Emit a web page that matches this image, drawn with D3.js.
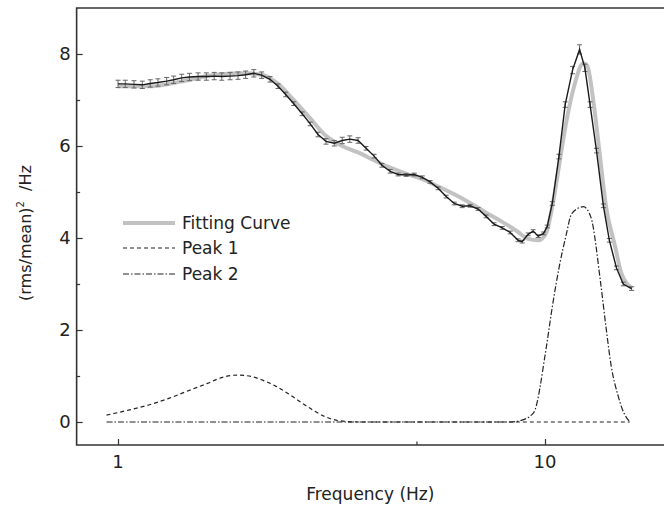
<!DOCTYPE html>
<html>
<head>
<meta charset="utf-8">
<script src="https://cdn.jsdelivr.net/npm/d3@7"></script>
<style>
  body { margin: 0; background: #fff; }
  text { font-family: "DejaVu Sans", sans-serif; fill: #222; }
</style>
</head>
<body>
<div id="chart"></div>
<script>
// measured spectrum (black line with error bars)
const freq = [1.00, 1.04, 1.09, 1.14, 1.19, 1.24, 1.30, 1.35, 1.41, 1.47, 1.54, 1.61, 1.68, 1.75, 1.83, 1.91,
  1.99, 2.08, 2.17, 2.27, 2.37, 2.47, 2.58, 2.70, 2.82, 2.94, 3.07, 3.21, 3.35, 3.49, 3.65, 3.81, 3.98,
  4.15, 4.34, 4.53, 4.73, 4.94, 5.16, 5.38, 5.62, 5.87, 6.13, 6.40, 6.68, 6.97, 7.28, 7.60, 7.94, 8.29,
  8.65, 8.84, 9.13, 9.38, 9.64, 9.92, 10.12, 10.40, 10.78, 11.15, 11.60, 12.05, 12.40, 12.75, 13.20,
  13.70, 14.15, 14.70, 15.25, 15.95]
const power = [7.35, 7.35, 7.34, 7.33, 7.36, 7.38, 7.41, 7.44, 7.48, 7.50, 7.51, 7.51, 7.52, 7.51, 7.52, 7.53,
  7.55, 7.58, 7.54, 7.45, 7.30, 7.12, 6.92, 6.70, 6.48, 6.25, 6.10, 6.06, 6.12, 6.15, 6.12, 5.95, 5.78,
  5.58, 5.45, 5.38, 5.37, 5.38, 5.32, 5.22, 5.08, 4.90, 4.75, 4.69, 4.70, 4.63, 4.47, 4.30, 4.22, 4.12,
  3.95, 3.92, 4.08, 4.15, 4.04, 4.10, 4.25, 4.75, 5.77, 6.90, 7.65, 8.10, 7.70, 6.90, 5.90,
  4.70, 3.95, 3.35, 3.00, 2.90]
const errs = [0.08, 0.08, 0.08, 0.08, 0.08, 0.08, 0.08, 0.08, 0.08, 0.08, 0.08, 0.08, 0.08, 0.08, 0.08, 0.08,
  0.08, 0.08, 0.07, 0.06, 0.05, 0.05, 0.04, 0.04, 0.04, 0.05, 0.06, 0.06, 0.07, 0.07, 0.06, 0.04, 0.04,
  0.04, 0.04, 0.03, 0.03, 0.03, 0.03, 0.03, 0.03, 0.03, 0.03, 0.03, 0.03, 0.03, 0.03, 0.03, 0.03, 0.03,
  0.03, 0.03, 0.03, 0.03, 0.03, 0.03, 0.03, 0.04, 0.05, 0.06, 0.08, 0.10, 0.08, 0.06, 0.05,
  0.04, 0.04, 0.04, 0.04, 0.04]

// fitting curve (thick grey)
const fitFreq = [1.00, 1.20, 1.40, 1.70, 2.00, 2.17, 2.37, 2.58, 2.82, 3.07, 3.35, 3.65, 3.98, 4.34, 4.73,
  5.16, 5.62, 6.13, 6.68, 7.28, 7.94, 8.65, 9.13, 9.64, 10.05, 10.47, 10.90, 11.20, 11.70, 12.30, 12.55,
  13.00, 13.40, 13.90, 14.60, 15.10, 16.00]
const fitPower = [7.30, 7.30, 7.40, 7.55, 7.58, 7.55, 7.35, 7.00, 6.60, 6.22, 6.00, 5.86, 5.69, 5.53, 5.40,
  5.28, 5.12, 4.95, 4.76, 4.55, 4.35, 4.13, 3.98, 3.95, 4.10, 4.83, 5.84, 6.49, 7.30, 7.80, 7.75,
  6.93, 5.91, 4.68, 3.81, 3.23, 2.91]

// Lorentzian components
const peak1Freq = [0.94, 1.05, 1.18, 1.32, 1.48, 1.62, 1.73, 1.90, 2.05, 2.18, 2.34, 2.50, 2.68, 2.86, 3.05, 3.29, 3.68, 6.00, 10.00, 15.80]
const peak1Power = [0.15, 0.25, 0.37, 0.52, 0.70, 0.84, 0.95, 1.02, 0.99, 0.91, 0.78, 0.62, 0.43, 0.26, 0.12, 0.03, 0.00, 0.00, 0.00, 0.00]
const peak2Freq = [0.94, 3.00, 6.00, 8.29, 8.75, 9.40, 10.05, 10.40, 10.80, 11.20, 11.55, 12.30, 12.80, 13.50, 13.90, 14.30, 14.80, 15.20, 15.80]
const peak2Power = [0.00, 0.00, 0.00, 0.00, 0.03, 0.20, 1.57, 2.50, 3.38, 4.05, 4.53, 4.68, 4.46, 3.02, 2.05, 1.20, 0.60, 0.26, 0.00]

const yTicks = [0, 2, 4, 6, 8]
const yMinor = [1, 3, 5, 7]
const xTicks = [1, 10]
const xMinor = [5]
const legendItems = ['Fitting Curve', 'Peak 1', 'Peak 2']

const W = 664, H = 507
const svg = d3.select('#chart').append('svg')
  .attr('width', W).attr('height', H)

const x = d3.scaleLog().domain([1, 10]).range([118, 545])
const y = d3.scaleLinear().domain([0, 8]).range([422, 54])

const plotLeft = x(0.8), plotRight = W + 10, plotTop = y(9), plotBottom = y(-0.5)

const zip = (a, b) => a.map((f, i) => ({ f: f, v: b[i] }))
const line = d3.line().x(d => x(d.f)).y(d => y(d.v))

const plot = svg.append('g')

// fit underneath
plot.append('path')
  .datum(zip(fitFreq, fitPower))
  .attr('fill', 'none')
  .attr('stroke', '#c2c2c2')
  .attr('stroke-width', 4)
  .attr('stroke-linejoin', 'round')
  .attr('d', line.curve(d3.curveMonotoneX))

plot.append('path')
  .datum(zip(peak1Freq, peak1Power))
  .attr('fill', 'none')
  .attr('stroke', '#222')
  .attr('stroke-width', 1.2)
  .attr('stroke-dasharray', '4,3')
  .attr('d', line.curve(d3.curveMonotoneX))

plot.append('path')
  .datum(zip(peak2Freq, peak2Power))
  .attr('fill', 'none')
  .attr('stroke', '#222')
  .attr('stroke-width', 1.2)
  .attr('stroke-dasharray', '6,2,1.5,2')
  .attr('d', line.curve(d3.curveMonotoneX))

// measured data
const data = freq.map((f, i) => ({ f: f, v: power[i], e: errs[i] }))

const bars = plot.append('g').attr('stroke', '#666').attr('stroke-width', 1)
bars.selectAll('.eb').data(data).enter().append('path')
  .attr('class', 'eb')
  .attr('d', d => {
    const cx = x(d.f), y0 = y(d.v - d.e), y1 = y(d.v + d.e)
    return `M${cx},${y0}V${y1}M${cx - 2.5},${y1}H${cx + 2.5}M${cx - 2.5},${y0}H${cx + 2.5}`
  })

plot.append('path')
  .datum(data)
  .attr('fill', 'none')
  .attr('stroke', '#1a1a1a')
  .attr('stroke-width', 1.4)
  .attr('d', line.curve(d3.curveLinear))

// frame and axes
const axisCol = '#333'
svg.append('path')
  .attr('d', `M${plotRight},${plotTop}H${plotLeft}V${plotBottom}H${plotRight}`)
  .attr('fill', 'none')
  .attr('stroke', axisCol)
  .attr('stroke-width', 1.6)

const yAxis = svg.append('g').attr('transform', `translate(${plotLeft},0)`)
  .call(d3.axisRight(y).tickValues(yTicks).tickSize(6).tickFormat(''))
yAxis.select('.domain').remove()
yAxis.selectAll('line').attr('stroke', axisCol).attr('stroke-width', 1.2)

const yAxisMinor = svg.append('g').attr('transform', `translate(${plotLeft},0)`)
  .call(d3.axisRight(y).tickValues(yMinor).tickSize(3.5).tickFormat(''))
yAxisMinor.select('.domain').remove()
yAxisMinor.selectAll('line').attr('stroke', axisCol).attr('stroke-width', 1.2)

svg.append('g').selectAll('text').data(yTicks).enter().append('text')
  .attr('x', plotLeft - 6)
  .attr('y', d => y(d))
  .attr('dy', '0.36em')
  .attr('text-anchor', 'end')
  .attr('font-size', 18)
  .text(d => d)

const xAxis = svg.append('g').attr('transform', `translate(0,${plotBottom})`)
  .call(d3.axisTop(x).tickValues(xTicks).tickSize(6).tickFormat(''))
xAxis.select('.domain').remove()
xAxis.selectAll('line').attr('stroke', axisCol).attr('stroke-width', 1.2)

const xAxisMinor = svg.append('g').attr('transform', `translate(0,${plotBottom})`)
  .call(d3.axisTop(x).tickValues(xMinor).tickSize(3.5).tickFormat(''))
xAxisMinor.select('.domain').remove()
xAxisMinor.selectAll('line').attr('stroke', axisCol).attr('stroke-width', 1.2)

svg.append('g').selectAll('text').data(xTicks).enter().append('text')
  .attr('x', d => x(d))
  .attr('y', plotBottom + 23)
  .attr('text-anchor', 'middle')
  .attr('font-size', 18)
  .text(d => d)

// axis titles
svg.append('text')
  .attr('x', (plotLeft + W) / 2)
  .attr('y', 500)
  .attr('text-anchor', 'middle')
  .attr('font-size', 17)
  .text('Frequency (Hz)')

const yt = svg.append('text')
  .attr('transform', `translate(31,233) rotate(-90)`)
  .attr('text-anchor', 'middle')
  .attr('font-size', 16)
yt.append('tspan').text('(rms/mean)')
yt.append('tspan').attr('font-size', 10).attr('dy', -7).text('2')
yt.append('tspan').attr('dy', 7).text('\u00a0\u00a0/Hz')

// legend
const legendY = [223, 248, 274]
const legend = svg.append('g')
legendItems.forEach((name, i) => {
  const g = legend.append('g').attr('transform', `translate(0,${legendY[i]})`)
  const ln = g.append('line').attr('x1', 123).attr('x2', 175).attr('y1', 0).attr('y2', 0)
  if (i === 0) ln.attr('stroke', '#c2c2c2').attr('stroke-width', 4)
  if (i === 1) ln.attr('stroke', '#222').attr('stroke-width', 1.2).attr('stroke-dasharray', '4,3')
  if (i === 2) ln.attr('stroke', '#222').attr('stroke-width', 1.2).attr('stroke-dasharray', '6,2,1.5,2')
  g.append('text').attr('x', 182).attr('y', 0).attr('dy', '0.36em')
    .attr('font-size', 17).text(name)
})
</script>
</body>
</html>
